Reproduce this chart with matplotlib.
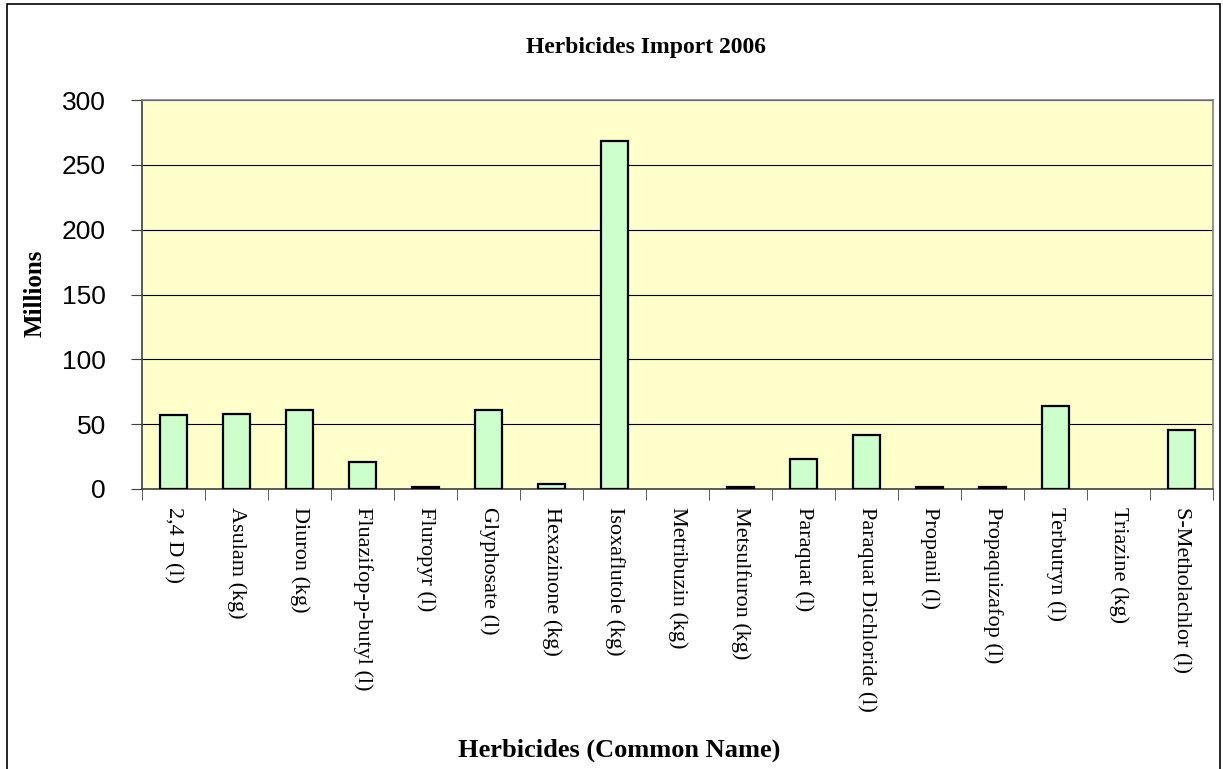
import matplotlib
matplotlib.use("Agg")
import matplotlib.pyplot as plt
from matplotlib.patches import Rectangle

names = ["2,4 D (l)", "Asulam (kg)", "Diuron (kg)", "Fluazifop-p-butyl (l)", "Fluropyr (l)",
         "Glyphosate (l)", "Hexazinone (kg)", "Isoxaflutole (kg)", "Metribuzin (kg)",
         "Metsulfuron (kg)", "Paraquat (l)", "Paraquat Dichloride (l)", "Propanil (l)",
         "Propaquizafop (l)", "Terbutryn (l)", "Triazine (kg)", "S-Metholachlor (l)"]
millions = [57.0, 58.1, 61.0, 20.8, 1.6, 61.0, 3.6, 268.3, 0.0,
            1.6, 23.4, 41.4, 1.6, 1.6, 64.3, 0.0, 45.6]

W, H = 1223, 769
fig = plt.figure(figsize=(W / 100, H / 100), dpi=100)
ax = fig.add_axes([142 / W, 1 - 489 / H, (1213 - 142) / W, (489 - 100) / H])

# outer chart border (bottom is cut off in the original)
fig.patches.append(Rectangle((7 / W, -0.1), (1220 - 7) / W, 1.1 - 4 / H,
                             transform=fig.transFigure, fill=False,
                             edgecolor="black", linewidth=1.2, clip_on=False))

ax.set_facecolor("#FFFFCC")
x = list(range(len(names)))
edges = ["black" if v > 0 else "none" for v in millions]
ax.bar(x, millions, width=0.42, color="#CCFFCC", edgecolor=edges, linewidth=1.6, zorder=3)

ax.set_xlim(-0.5, len(names) - 0.5)
ax.set_ylim(0, 300)
ax.set_yticks(range(0, 301, 50))
ax.yaxis.grid(True, color="black", linewidth=0.8, zorder=1)
ax.set_axisbelow(True)

ax.set_xticks(x)
ax.set_xticklabels(names, rotation=-90, fontfamily="Liberation Serif", fontsize=16,
                   va="top", ha="center")
ax.set_xticks([i - 0.5 for i in range(len(names) + 1)], minor=True)
ax.tick_params(axis="x", which="major", length=0, pad=13)
ax.tick_params(axis="x", which="minor", length=8, direction="out", color="#404040")
ax.tick_params(axis="y", length=8, direction="out", color="#404040", pad=18, labelsize=19)
for lab in ax.get_yticklabels():
    lab.set_fontfamily("Liberation Sans")

for s in ax.spines.values():
    s.set_color("#808080")
    s.set_linewidth(1.2)
ax.spines["bottom"].set_color("#404040")
ax.spines["left"].set_color("#404040")

fig.text(0.528, 1 - 47 / H, "Herbicides Import 2006", ha="center", va="center",
         fontfamily="Liberation Serif", fontweight="bold", fontsize=17)
fig.text(0.506, 1 - 750 / H, "Herbicides (Common Name)", ha="center", va="center",
         fontfamily="Liberation Serif", fontweight="bold", fontsize=19)
fig.text(35 / W, 1 - 293 / H, "Millions", ha="center", va="center", rotation=90,
         fontfamily="Liberation Serif", fontweight="bold", fontsize=18)

fig.savefig("out.png", dpi=100)
